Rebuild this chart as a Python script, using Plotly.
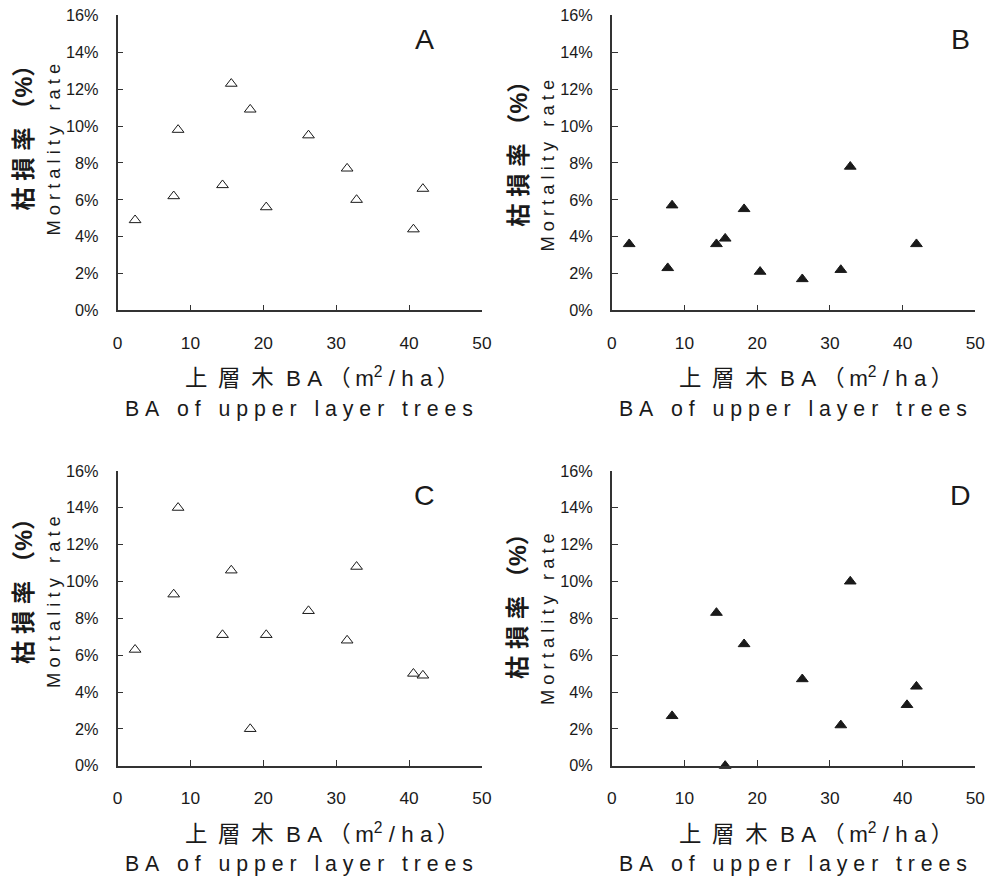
import plotly.graph_objects as go

# Basal area of upper-layer trees (m2/ha) and mortality rate (%) per panel
ba_a = [2.4, 7.7, 8.3, 14.4, 15.6, 18.2, 20.4, 26.2, 31.5, 32.8, 40.6, 41.9]
mort_a = [4.9, 6.2, 9.8, 6.8, 12.3, 10.9, 5.6, 9.5, 7.7, 6.0, 4.4, 6.6]

ba_b = [2.4, 7.7, 8.3, 14.4, 15.6, 18.2, 20.4, 26.2, 31.5, 32.8, 41.9]
mort_b = [3.6, 2.3, 5.7, 3.6, 3.9, 5.5, 2.1, 1.7, 2.2, 7.8, 3.6]

ba_c = [2.4, 7.7, 8.3, 14.4, 15.6, 18.2, 20.4, 26.2, 31.5, 32.8, 40.6, 41.9]
mort_c = [6.3, 9.3, 14.0, 7.1, 10.6, 2.0, 7.1, 8.4, 6.8, 10.8, 5.0, 4.9]

ba_d = [8.3, 14.4, 15.6, 18.2, 26.2, 31.5, 32.8, 40.6, 41.9]
mort_d = [2.7, 8.3, 0.0, 6.6, 4.7, 2.2, 10.0, 3.3, 4.3]

panel_labels = ["A", "B", "C", "D"]
x_ticks = [0, 10, 20, 30, 40, 50]
y_ticks = [0, 2, 4, 6, 8, 10, 12, 14, 16]

W, H = 991, 876
# layout is planned in page pixels; the page shows the figure slightly
# inset and reduced, so positions are mapped back into figure pixels
SX, OX = 0.984, 5.5
SY, OY = 0.983, 7.5
K = 1 / SX  # size factor for fonts, markers and tick lengths

FONT = "Liberation Sans, Arial, Noto Sans CJK JP, sans-serif"
INK = "#1a1a1a"
NB = "\u00a0"
THIN = "\u2009"


def px_x(p):
    return ((p - OX) / SX) / W


def px_y(p):
    return 1 - ((p - OY) / SY) / H


def sz(v):
    return round(v * K, 1)


def spaced(s, gap=1, word_gap=3):
    """Spread characters apart with non-breaking spaces."""
    out = []
    for word in s.split(" "):
        out.append((NB * gap).join(word))
    return (NB * word_gap).join(out)


CJ = NB + THIN
x_title_cjk = (f"上{CJ}層{CJ}木{NB * 2}B{NB}A{NB}（{THIN}m<sup>2</sup>{NB}/{NB}h{NB}a{THIN}）")
y_title_cjk = f"枯{NB}損{NB}率{NB}（%）"

# page-pixel boxes of each plotting area: (left, right, top, bottom)
boxes = [
    (118.0, 482.0, 14.0, 310.0),
    (611.7, 975.0, 14.0, 310.0),
    (118.0, 482.0, 471.0, 767.0),
    (611.7, 975.0, 471.0, 767.0),
]

series = [
    (ba_a, mort_a, "triangle-up-open"),
    (ba_b, mort_b, "triangle-up"),
    (ba_c, mort_c, "triangle-up-open"),
    (ba_d, mort_d, "triangle-up"),
]

fig = go.Figure()
layout = dict(
    width=W, height=H,
    margin=dict(l=0, r=0, t=0, b=0),
    paper_bgcolor="white", plot_bgcolor="white",
    showlegend=False,
    font=dict(family=FONT, color=INK),
)
annotations = []

# vertical anchor (page px) of the rotated y-title lines per panel
ytitle_cjk_y = [131, 147, 586, 601]
ytitle_en_y = [149, 165, 603, 620]

for i, ((xs, ys, sym), (l, r, t, b)) in enumerate(zip(series, boxes)):
    n = "" if i == 0 else str(i + 1)
    xa, ya = "x" + n, "y" + n
    fig.add_trace(go.Scatter(
        x=xs, y=ys, mode="markers", xaxis=xa, yaxis=ya,
        cliponaxis=False,
        marker=dict(symbol=sym, size=sz(10), color=INK,
                    line=dict(color=INK, width=1)),
    ))
    axis_common = dict(
        showgrid=False, zeroline=False, showline=True,
        linecolor="#333333", linewidth=1.5,
        ticks="inside", ticklen=sz(6), tickwidth=1, tickcolor="#333333",
        mirror=False,
    )
    layout["xaxis" + n] = dict(
        axis_common, domain=[px_x(l), px_x(r)], anchor=ya, range=[0, 50],
        tickvals=x_ticks, ticktext=[str(v) for v in x_ticks],
        tickfont=dict(size=sz(17), family=FONT, color=INK),
        ticklabelstandoff=16,
    )
    layout["yaxis" + n] = dict(
        axis_common, domain=[px_y(b), px_y(t)], anchor=xa, range=[0, 16],
        tickvals=y_ticks, ticktext=[f"{v}%" for v in y_ticks],
        tickfont=dict(size=sz(16), family=FONT, color=INK),
        ticklabelstandoff=14,
    )
    cx = (l + r) / 2
    # x-axis title, two lines
    annotations.append(dict(
        x=px_x(cx + 22), y=px_y(b + 67), xref="paper", yref="paper",
        text=x_title_cjk,
        showarrow=False, xanchor="center", yanchor="middle",
        font=dict(size=sz(22), family=FONT, color=INK),
    ))
    annotations.append(dict(
        x=px_x(cx - 1), y=px_y(b + 99), xref="paper", yref="paper",
        text=spaced("BA of upper layer trees"),
        showarrow=False, xanchor="center", yanchor="middle",
        font=dict(size=sz(21), family=FONT, color=INK),
    ))
    # y-axis title, two rotated lines
    annotations.append(dict(
        x=px_x(l - 93), y=px_y(ytitle_cjk_y[i]), xref="paper", yref="paper",
        text=y_title_cjk,
        showarrow=False, textangle=-90, xanchor="center", yanchor="middle",
        font=dict(size=sz(23), family=FONT, color=INK, weight="bold"),
    ))
    annotations.append(dict(
        x=px_x(l - 64), y=px_y(ytitle_en_y[i]), xref="paper", yref="paper",
        text=spaced("Mortality rate"),
        showarrow=False, textangle=-90, xanchor="center", yanchor="middle",
        font=dict(size=sz(18), family=FONT, color=INK),
    ))
    # panel letter
    annotations.append(dict(
        x=px_x(r - 57 if i % 2 == 0 else r - 15), y=px_y(t + 24),
        xref="paper", yref="paper", text=panel_labels[i],
        showarrow=False, xanchor="center", yanchor="middle",
        font=dict(size=sz(28), family=FONT, color=INK),
    ))

layout["annotations"] = annotations
fig.update_layout(**layout)
fig.write_html("out.html")
